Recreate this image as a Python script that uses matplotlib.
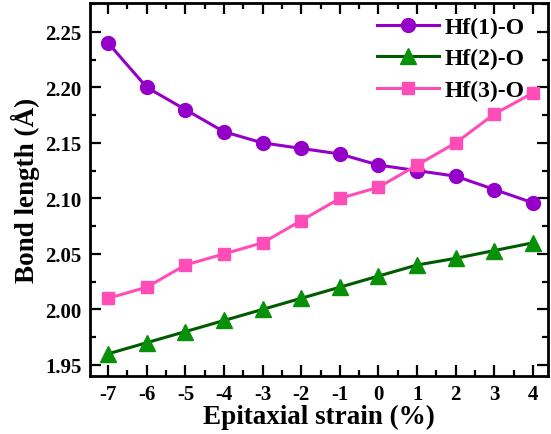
import numpy as np
import matplotlib
matplotlib.use('Agg')
import matplotlib.pyplot as plt
from matplotlib.ticker import MultipleLocator, FormatStrFormatter

plt.rcParams['font.family'] = 'Liberation Serif'
plt.rcParams['font.weight'] = 'bold'
plt.rcParams['axes.unicode_minus'] = False

strain = [-7, -6, -5, -4, -3, -2, -1, 0, 1, 2, 3, 4]
hf1_o = [2.24, 2.20, 2.18, 2.16, 2.15, 2.145, 2.14, 2.13, 2.125, 2.12, 2.108, 2.096]
hf2_o = [1.96, 1.97, 1.98, 1.99, 2.00, 2.01, 2.02, 2.03, 2.04, 2.046, 2.053, 2.06]
hf3_o = [2.01, 2.02, 2.04, 2.05, 2.06, 2.08, 2.10, 2.11, 2.13, 2.15, 2.176, 2.195]

fig = plt.figure(figsize=(5.51, 4.35), dpi=100)
ax = fig.add_axes([90/551, 1 - 377/435, 458/551, 373/435])

ax.plot(strain, hf1_o, color='#9400C8', marker='o', ms=10, lw=2.2, label='Hf(1)-O')
ax.plot(strain, hf2_o, color='#005A00', marker='^', ms=11, lw=2.2,
        mfc='#089008', mec='#089008', label='Hf(2)-O')
ax.plot(strain, hf3_o, color='#FF4DB8', marker='s', ms=8.5, lw=2.2, label='Hf(3)-O')

ax.set_xlim(-7.47, 4.39)
ax.set_ylim(1.94, 2.276)
ax.xaxis.set_major_locator(MultipleLocator(1))
ax.xaxis.set_minor_locator(MultipleLocator(0.5))
ax.yaxis.set_major_locator(MultipleLocator(0.05))
ax.yaxis.set_minor_locator(MultipleLocator(0.025))
ax.yaxis.set_major_formatter(FormatStrFormatter('%.2f'))

ax.tick_params(which='both', direction='in', top=True, right=True, labelsize=15, width=1.6)
ax.tick_params(which='major', length=8, pad=6)
ax.tick_params(which='minor', length=4)
for s in ax.spines.values():
    s.set_linewidth(2)

ax.set_xlabel('Epitaxial strain (%)', fontsize=19.5, fontweight='bold', labelpad=0)
ax.set_ylabel('Bond length (Å)', fontsize=19.5, fontweight='bold', labelpad=4)

ax.legend(loc='upper right', bbox_to_anchor=(1 - 14/458, 1 - 4/373), frameon=False,
          fontsize=17, handlelength=2.6, borderaxespad=0, labelspacing=0.42,
          handletextpad=0.25)

fig.savefig('out.png', dpi=100)
